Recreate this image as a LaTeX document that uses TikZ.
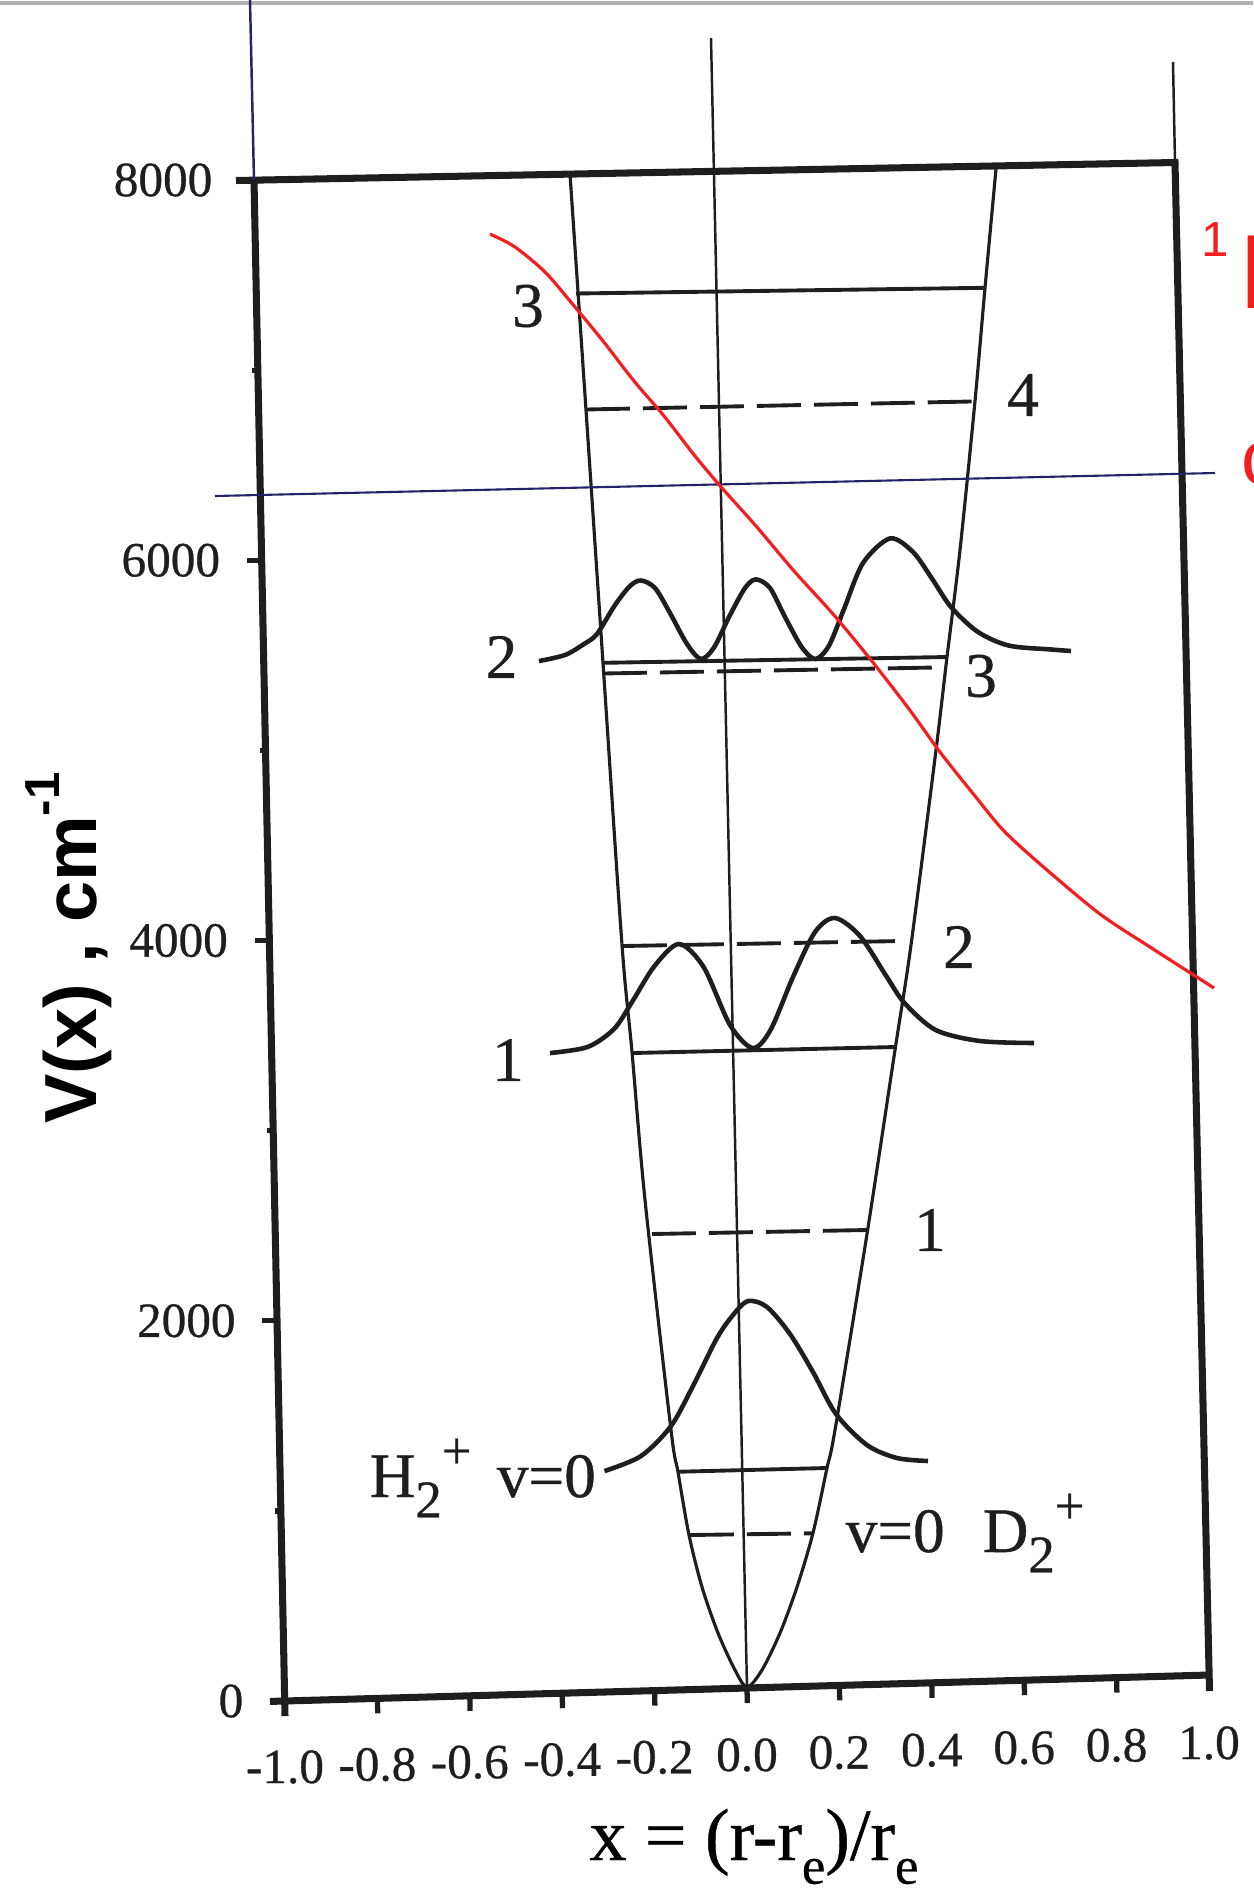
\documentclass[tikz,border=0pt]{standalone}
\usepackage{fontspec}
\setmainfont{Liberation Serif}[FakeBold=0.6]
\setsansfont{Liberation Sans}
\definecolor{inkBlack}{RGB}{30,30,30}
\definecolor{penRed}{RGB}{245,30,30}
\definecolor{penBlue}{RGB}{35,35,105}
\newcommand{\lowidx}[1]{\raisebox{-0.32em}{\fontsize{15}{15}\selectfont #1}}
\newcommand{\highidx}[1]{\raisebox{0.45em}{\fontsize{15}{15}\selectfont #1}}
\tikzset{
    frame/.style={line width=2pt, inkBlack},
    tickmark/.style={line width=1.5pt, inkBlack},
    guide/.style={line width=0.7pt, inkBlack},
    wall/.style={line width=0.9pt, inkBlack},
    hlevel/.style={line width=1.1pt, inkBlack},
    dlevel/.style={line width=1.1pt, inkBlack, dash pattern=on 12.5pt off 3.7pt},
    wave/.style={line width=1.3pt, inkBlack},
    redpen/.style={line width=0.9pt, penRed},
    bluepen/.style={line width=0.6pt, penBlue},
    ticklbl/.style={font=\fontsize{14}{14}\selectfont, inner sep=0pt, text=inkBlack},
    levellbl/.style={font=\fontsize{18}{18}\selectfont, inner sep=0pt, text=inkBlack},
    redtxt/.style={font=\sffamily\fontsize{30}{30}\selectfont, inner sep=0pt, text=penRed}
}
\begin{document}
\begin{tikzpicture}[x=0.01cm, y=-0.01cm]
  \useasboundingbox (0,0) rectangle (1253,1899);
  \draw[line width=1.2pt, gray!60] (0,3) -- (1253,3);

  % Frame and axes
  \draw[frame] (236,180.5) -- (1175,162.5) -- (1209.5,1691);
  \draw[frame] (254,180) -- (285,1716);
  \draw[frame] (270,1701.4) -- (1209,1675);
  \draw[guide, penBlue] (254,180) -- (250,0);
  \draw[guide] (1175,163) -- (1173,62);
  \draw[guide] (747,1688) -- (711,38);

  \foreach \i in {1,...,9}
    \draw[tickmark] ({285+92.4*\i},{1701-2.6*\i}) -- ++(0.3,15);
  \foreach \k in {2,4,6}
    \draw[tickmark] ({285-31*\k/8},{1701-1521*\k/8}) -- ++(-15,0);
  \foreach \k in {1,3,5,7}
    \draw[tickmark] ({285-31*\k/8},{1701-1521*\k/8}) -- ++(-6,0);

  \foreach \i/\t in {0/-1.0,1/-0.8,2/-0.6,3/-0.4,4/-0.2,5/0.0,6/0.2,7/0.4,8/0.6,9/0.8,10/1.0}
    \node[ticklbl] (xt\i) at ({285+92.4*\i},{1767-2.4*\i}) {\t};
  \foreach \k/\t in {0/0,2/2000,4/4000,6/6000,8/8000}
    \node[ticklbl, anchor=east] (yt\k) at ({285-31*\k/8-41},{1701-1521*\k/8}) {\t};

  \node[font=\sffamily\bfseries\fontsize{21}{21}\selectfont, inner sep=0pt, rotate=90, anchor=base] (ylbl) at (96,948)
    {V(x) , cm\raisebox{0.5em}{\fontsize{14}{14}\selectfont -1}};
  \node[font=\fontsize{21}{21}\selectfont, inner sep=0pt, anchor=base] (xlbl) at (754,1860)
    {x = (r-r\lowidx{e})/r\lowidx{e}};

  % Potential curve
  \draw[wall] plot[smooth, tension=0.5] coordinates {(570,174) (586,410) (603,663) (622,945) (632,1052)
    (645,1200) (671,1430) (678,1472) (689,1535) (702,1587) (718,1633) (735,1670) (747,1687)
    (762,1670) (780,1633) (797,1587) (813,1533) (827,1468) (835,1430) (867,1234) (895,1050)
    (911,945) (936,750) (947,657) (960,550) (975,401) (985,288) (996,169)};

  % Levels
  \draw[hlevel] (576,293.5) -- (985,287.8);
  \draw[hlevel] (603,662.8) -- (947.5,657);
  \draw[hlevel] (633,1053) -- (895.5,1047);
  \draw[hlevel] (679,1471.7) -- (826.7,1468);
  \draw[dlevel] (586,409.5) -- (975,401.4);
  \draw[dlevel] (603,673.5) -- (940,667.4);
  \draw[dlevel] (623,946) -- (902,941);
  \draw[dlevel] (652,1234) -- (866.6,1230);
  \draw[dlevel] (690,1535) -- (813.3,1533.3);

  % Wavefunctions
  \draw[wave] plot[smooth] coordinates {(604.5,1471) (641,1456) (671,1426) (694,1384) (717,1338)
    (733,1315) (748,1301) (767,1307) (790,1334) (813,1372) (836,1414) (867,1445) (897,1458) (928,1461)};
  \draw[wave] plot[smooth] coordinates {(550,1053) (587.5,1047) (614,1029) (632,1002) (654.5,966)
    (679,944) (703.6,967) (730,1025) (752.7,1048) (770.5,1030) (793,977) (815,932) (835,918)
    (860,936) (886.6,976.6) (904.5,1003) (935.7,1030) (980,1041) (1034,1043)};
  \draw[wave] plot[smooth] coordinates {(539,661) (565,655) (584,644) (597,634) (615,605) (630,586)
    (641,580.5) (655,588) (670,613) (687,644) (701,659) (714,647.5) (729,617) (745,588) (756,579.4)
    (770,588) (785,617) (802,647.5) (815.5,659) (829,645.6) (844,609) (863,563) (890,538.4)
    (913,552) (932,578.6) (951,607) (978,632) (1009,645.6) (1050,649.4) (1071,651)};

  % Level labels
  \node[levellbl] (vHthree) at (528,306) {3};
  \node[levellbl] (vDfour) at (1023,395) {4};
  \node[levellbl] (vHtwo) at (501.5,657) {2};
  \node[levellbl] (vDthree) at (981,676) {3};
  \node[levellbl] (vDtwo) at (959,947) {2};
  \node[levellbl] (vHone) at (508,1060) {1};
  \node[levellbl] (vDone) at (930,1230) {1};
  \node[levellbl, anchor=base west] (lblH) at (369,1497)
    {H\lowidx{2}\highidx{+}\hspace{0.4em}v=0};
  \node[levellbl, anchor=base west] (lblD) at (845,1552)
    {v=0\hspace{0.6em}D\lowidx{2}\highidx{+}};

  % Pen marks
  \draw[bluepen] (215,496) -- (1215,473);
  \draw[redpen] plot[smooth] coordinates {(490,234) (515,247) (545,272) (570,301) (603,341) (634,381)
    (664,416) (695,456) (722,488) (756,526) (794,571) (833,614) (871,660) (909,709) (940,752)
    (975,796) (1005,832) (1047,870) (1100,914) (1150,947) (1214,988)};
  \node[redtxt, font=\sffamily\fontsize{14}{14}\selectfont] (tagOne) at (1215,240) {1};
  \node[redtxt, anchor=base west] (tagH) at (1239,308) {H};
  \node[redtxt, font=\sffamily\fontsize{22}{22}\selectfont, anchor=base west] (tagC) at (1241,484) {c};
\end{tikzpicture}
\end{document}
